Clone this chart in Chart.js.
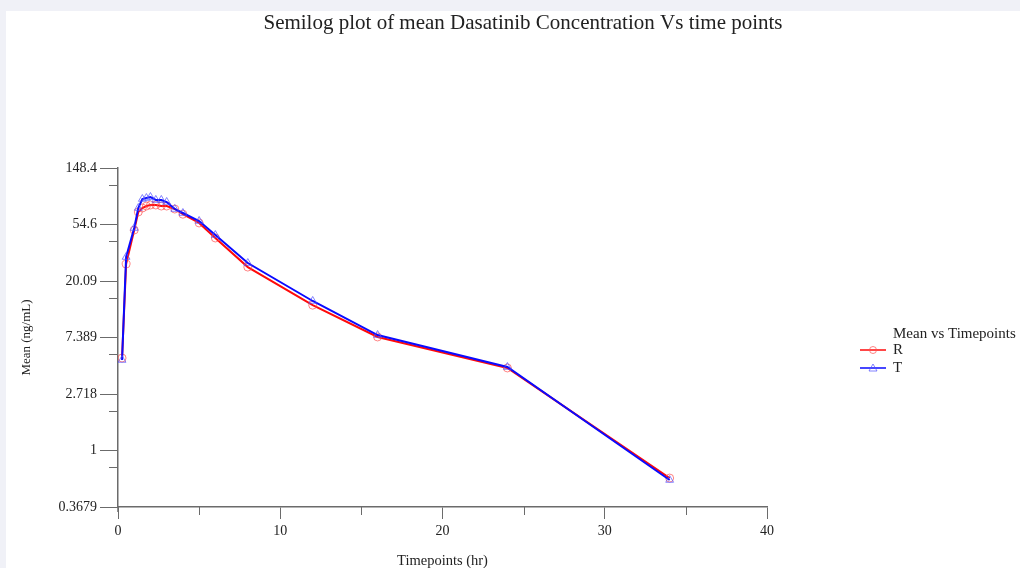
<!DOCTYPE html>
<html>
<head>
<meta charset="utf-8">
<script src="https://cdn.jsdelivr.net/npm/chart.js@4.4.1/dist/chart.umd.min.js"></script>
<style>
  body { margin: 0; background: #f0f1f7; width: 1020px; height: 568px; overflow: hidden; }
  #wrap { position: absolute; left: 6px; top: 11px; width: 1014px; height: 557px; background: #fff; }
</style>
</head>
<body>
<div id="wrap"><canvas id="myChart" width="1014" height="557"></canvas></div>
<script>
// time points (hr)
const timepoints = [0.25, 0.5, 1, 1.25, 1.5, 1.75, 2, 2.33, 2.67, 3, 3.5, 4, 5, 6, 8, 12, 16, 24, 34];
// mean concentration (ng/mL)
const meanR = [5.14, 27.1, 49.5, 68.1, 73.1, 75.7, 77.1, 77.1, 75.7, 75.7, 71.8, 65.5, 56.1, 43.0, 25.7, 13.1, 7.46, 4.31, 0.614];
const meanT = [4.96, 30.7, 51.3, 73.1, 85.7, 87.2, 88.8, 84.3, 84.3, 81.3, 71.8, 66.9, 58.1, 45.3, 27.6, 14.1, 7.72, 4.38, 0.593];
// y ticks are powers of e
const yTickPowers = [-1, 0, 1, 2, 3, 4, 5];
const yTickLabels = ['0.3679', '1', '2.718', '7.389', '20.09', '54.6', '148.4'];
const xTicks = [0, 10, 20, 30, 40];
const xMinorTicks = [5, 15, 25, 35];

const chartTitle = 'Semilog plot of mean Dasatinib Concentration Vs time points';
const serif = '"Liberation Serif", "Times New Roman", serif';
const axisColor = '#6b6b6b';
const textColor = '#222';

function toPoints(ys)
{
    let pts = [];
    for (let i = 0; i < timepoints.length; i++) {
        pts.push({x: timepoints[i], y: ys[i]});
    }
    return pts;
}

// title, minor ticks + legend drawn by hand
const extrasPlugin = {
    id: 'extras',
    afterDraw(chart) {
        const ctx = chart.ctx;
        const xs = chart.scales.x;
        const ys = chart.scales.y;
        const area = chart.chartArea;
        ctx.save();

        ctx.fillStyle = textColor;
        ctx.font = '21px ' + serif;
        ctx.textAlign = 'center';
        ctx.textBaseline = 'middle';
        ctx.fillText(chartTitle, 517, 12);

        ctx.strokeStyle = axisColor;
        ctx.lineWidth = 1;
        // y minor ticks
        for (let i = 0; i < yTickPowers.length - 1; i++) {
            let py = Math.round(ys.getPixelForValue(Math.exp(yTickPowers[i + 1] - 0.3))) + 0.5;
            ctx.beginPath();
            ctx.moveTo(area.left - 9, py);
            ctx.lineTo(area.left, py);
            ctx.stroke();
        }
        // x minor ticks
        xMinorTicks.forEach(function(v) {
            let px = Math.round(xs.getPixelForValue(v)) + 0.5;
            ctx.beginPath();
            ctx.moveTo(px, area.bottom);
            ctx.lineTo(px, area.bottom + 8);
            ctx.stroke();
        });
        // y axis runs a little below the x axis
        ctx.beginPath();
        ctx.lineWidth = 1.5;
        ctx.moveTo(area.left, area.bottom);
        ctx.lineTo(area.left, area.bottom + 5);
        ctx.stroke();

        // legend
        const lx = area.right + 93;
        const ly = 323;
        ctx.fillStyle = textColor;
        ctx.font = '15px ' + serif;
        ctx.textAlign = 'left';
        ctx.fillText('Mean vs Timepoints', lx + 33, ly);
        chart.data.datasets.slice().reverse().forEach(function(ds, i) {
            let y = ly + 16 + i * 18;
            ctx.strokeStyle = ds.borderColor;
            ctx.lineWidth = 1.5;
            ctx.beginPath();
            ctx.moveTo(lx, y);
            ctx.lineTo(lx + 26, y);
            ctx.stroke();
            ctx.strokeStyle = ds.pointBorderColor;
            ctx.lineWidth = 1;
            ctx.beginPath();
            if (ds.pointStyle === 'triangle') {
                ctx.moveTo(lx + 13, y - 4);
                ctx.lineTo(lx + 17, y + 3);
                ctx.lineTo(lx + 9, y + 3);
                ctx.closePath();
            } else {
                ctx.arc(lx + 13, y, 3.5, 0, Math.PI * 2);
            }
            ctx.stroke();
            ctx.fillStyle = textColor;
            ctx.fillText(ds.label, lx + 33, y);
        });
        ctx.restore();
    }
};

let canvas = document.getElementById('myChart').getContext('2d');
let myChart = new Chart(canvas, {
    type: 'line',
    data: {
        datasets: [
            {
                label: 'T',
                data: toPoints(meanT),
                borderColor: '#0a0aff',
                borderWidth: 2,
                pointStyle: 'triangle',
                pointRadius: 4.5,
                pointBorderColor: 'rgba(80,80,255,0.7)',
                pointBackgroundColor: 'rgba(0,0,0,0)',
                pointBorderWidth: 1,
                tension: 0,
                order: 0
            },
            {
                label: 'R',
                data: toPoints(meanR),
                borderColor: '#ff0a0a',
                borderWidth: 2,
                pointStyle: 'circle',
                pointRadius: 4,
                pointBorderColor: 'rgba(255,80,80,0.7)',
                pointBackgroundColor: 'rgba(0,0,0,0)',
                pointBorderWidth: 1,
                tension: 0,
                order: 1
            }
        ]
    },
    options: {
        responsive: false,
        animation: false,
        devicePixelRatio: 1,
        layout: { padding: { left: 5, right: 253, top: 157, bottom: 0 } },
        plugins: {
            legend: { display: false },
            tooltip: { enabled: false },
            title: { display: false }
        },
        scales: {
            x: {
                type: 'linear',
                min: 0,
                max: 40,
                afterBuildTicks: function(scale) {
                    scale.ticks = xTicks.map(function(v) { return {value: v}; });
                },
                afterFit: function(scale) { scale.height = 61; },
                border: { display: true, color: axisColor, width: 1.5 },
                grid: { drawOnChartArea: false, drawTicks: true, tickLength: 12, color: axisColor },
                ticks: {
                    color: textColor,
                    padding: 4,
                    maxRotation: 0,
                    font: { family: serif, size: 14 }
                },
                title: {
                    display: true,
                    text: 'Timepoints (hr)',
                    color: textColor,
                    font: { family: serif, size: 14.5, lineHeight: 0.9 },
                    padding: { top: 0, bottom: 0 }
                }
            },
            y: {
                type: 'logarithmic',
                min: Math.exp(-1),
                max: Math.exp(5),
                afterBuildTicks: function(scale) {
                    scale.ticks = yTickPowers.map(function(k) { return {value: Math.exp(k)}; });
                },
                afterFit: function(scale) { scale.width = 107; },
                border: { display: true, color: axisColor, width: 1.5 },
                grid: { drawOnChartArea: false, drawTicks: true, tickLength: 18, color: axisColor },
                ticks: {
                    color: textColor,
                    padding: 3,
                    font: { family: serif, size: 14 },
                    callback: function(value, index) { return yTickLabels[index]; }
                },
                title: {
                    display: true,
                    text: 'Mean (ng/mL)',
                    color: textColor,
                    font: { family: serif, size: 13 },
                    padding: { top: 8, bottom: 0 }
                }
            }
        }
    },
    plugins: [extrasPlugin]
});
</script>
</body>
</html>
